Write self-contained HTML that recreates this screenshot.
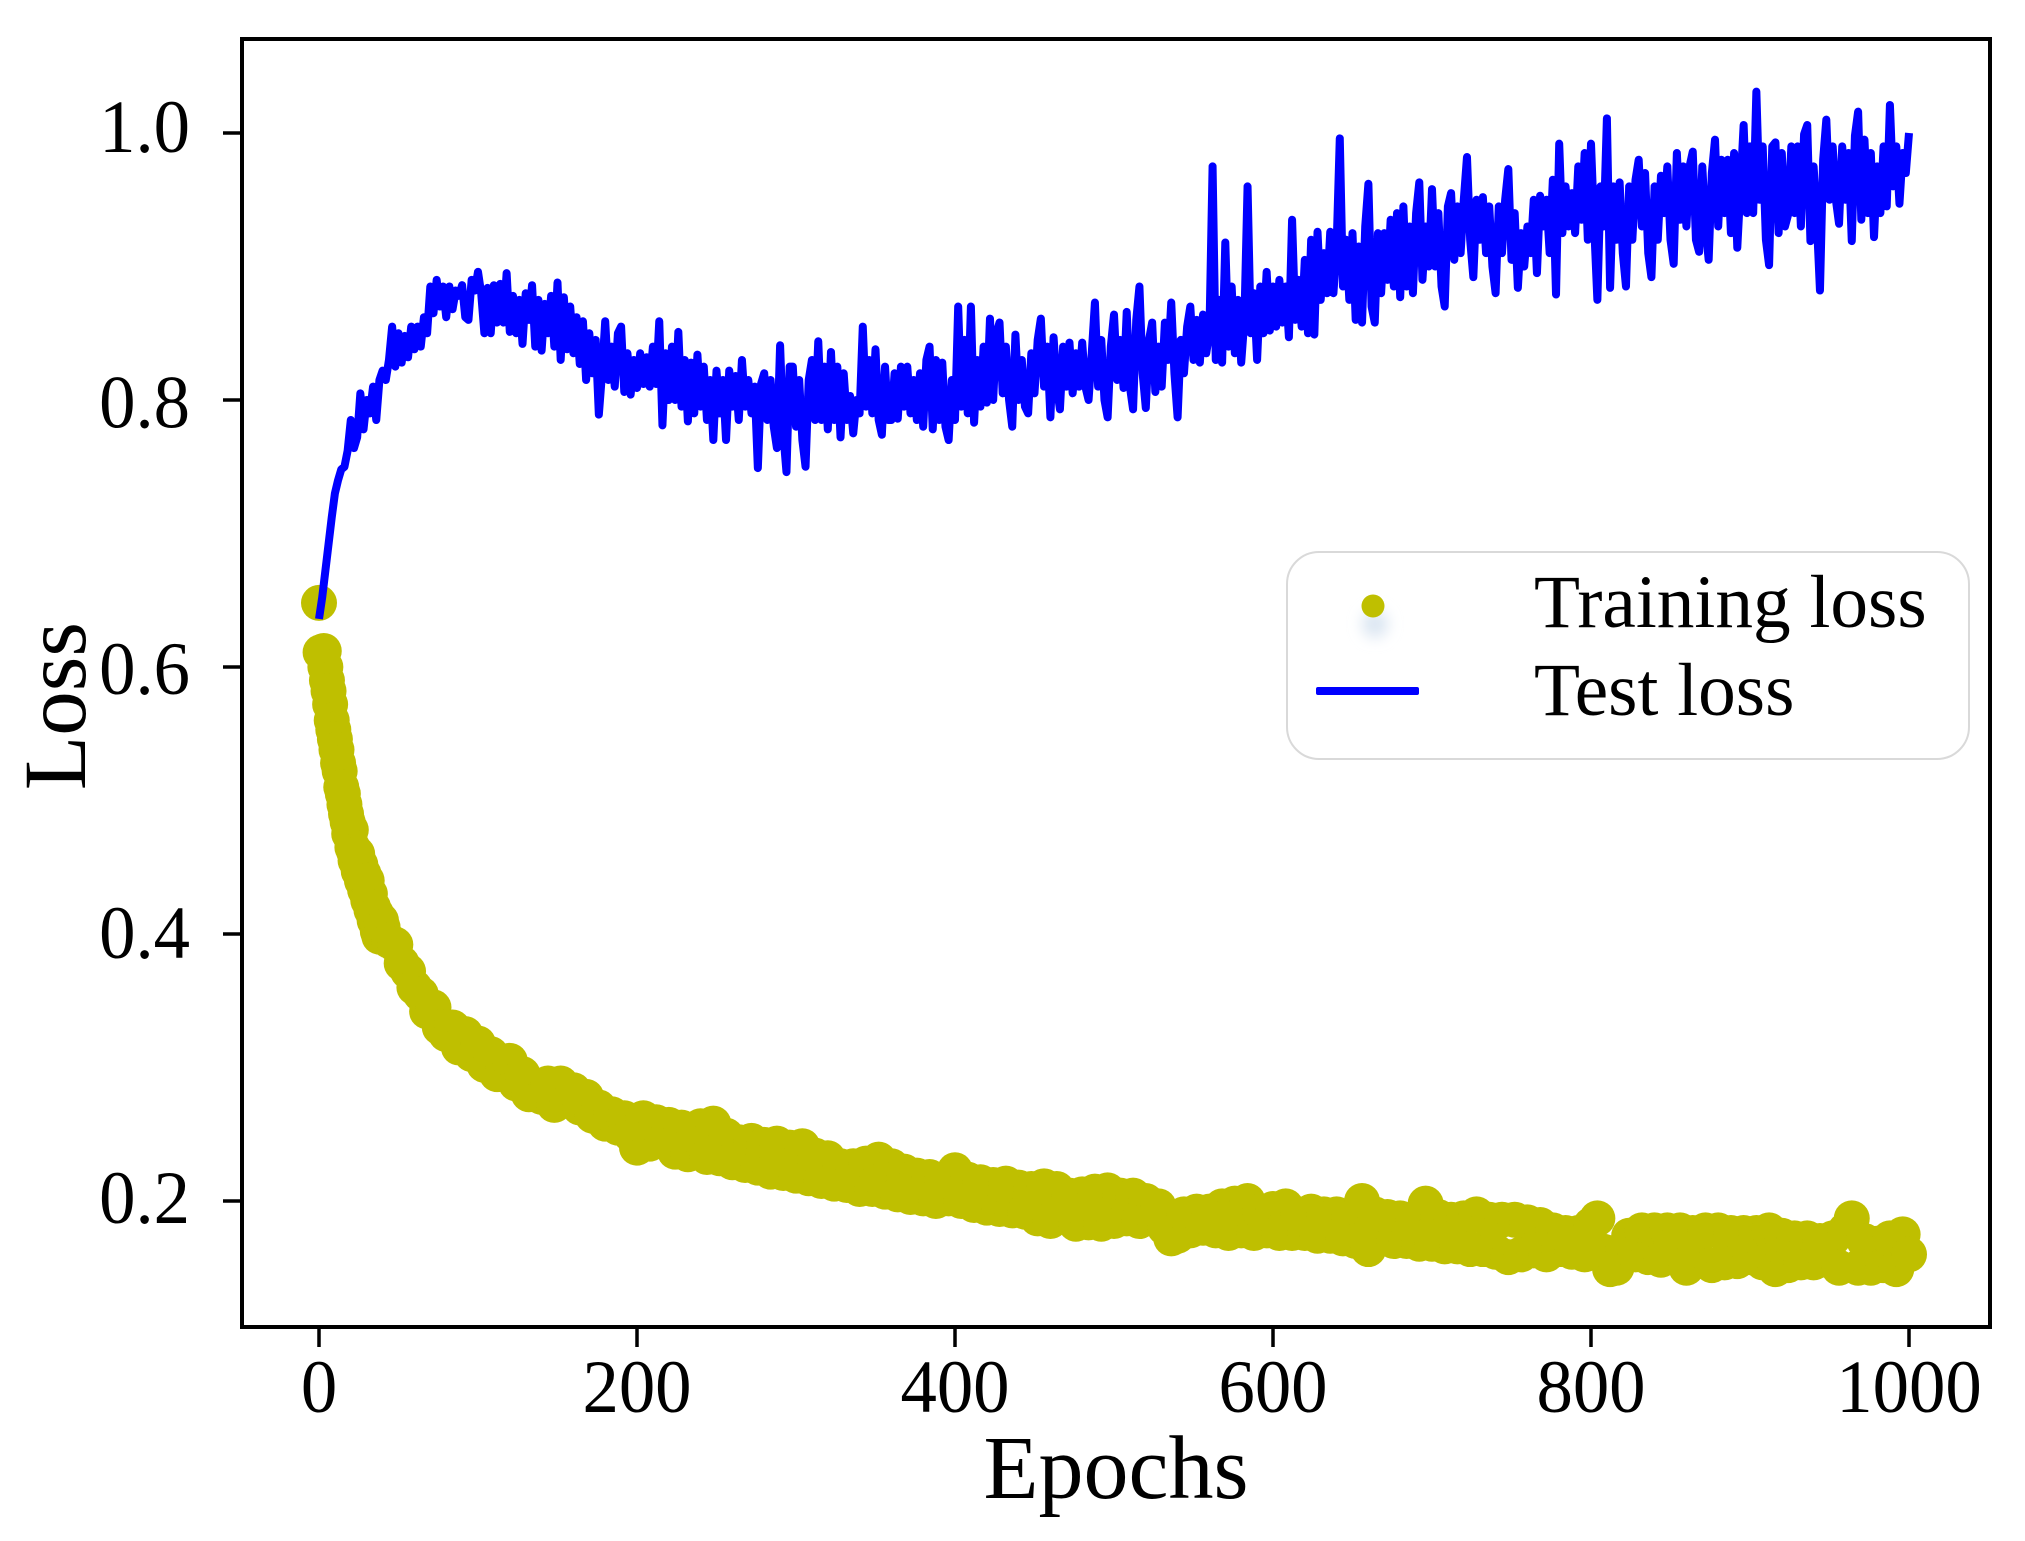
<!DOCTYPE html>
<html lang="en">
<head>
<meta charset="utf-8">
<title>Training and test loss</title>
<style>
html,body{margin:0;padding:0;background:#fff}
svg{display:block}
text{font-family:"Liberation Serif","Times New Roman",serif;fill:#000}
</style>
</head>
<body>
<svg id="chart" xmlns="http://www.w3.org/2000/svg" width="2025" height="1541" viewBox="0 0 2025 1541">
  <defs>
    <filter id="legend-glow" x="-100%" y="-100%" width="300%" height="300%"><feGaussianBlur stdDeviation="7"/></filter>
  </defs>
  <rect width="2025" height="1541" fill="#fff"/>
  <g id="train-layer"></g>
  <path id="test-line" fill="none" stroke="#0000ff" stroke-width="8" stroke-linejoin="round"/>
  <rect x="242" y="39" width="1748" height="1288" fill="none" stroke="#000" stroke-width="4"/>
  <g id="x-ticks"></g>
  <g id="y-ticks"></g>
  <text x="1116" y="1498" font-size="90" text-anchor="middle">Epochs</text>
  <text transform="translate(85 706) rotate(-90)" font-size="89" text-anchor="middle">Loss</text>
  <g>
    <rect x="1287" y="552" width="682" height="207" rx="32" ry="32" fill="#fff" stroke="#d9d9d9" stroke-width="2"/>
    <ellipse cx="1375" cy="624" rx="13" ry="14" fill="#dbe6f2" filter="url(#legend-glow)"/>
    <circle cx="1373" cy="606" r="11.5" fill="#bfbf00"/>
    <text x="1534" y="627" font-size="75.3">Training loss</text>
    <rect x="1316" y="687" width="103" height="8" rx="2" fill="#0000ff"/>
    <text x="1534" y="715" font-size="75.3">Test loss</text>
  </g>
</svg>
<script>
const xTickValues = [0, 200, 400, 600, 800, 1000];
const yTickValues = [0.2, 0.4, 0.6, 0.8, 1.0];
const yTickLabels = ["0.2", "0.4", "0.6", "0.8", "1.0"];

// Test loss, sampled every 2 epochs (20 values per row = 40 epochs)
const testEpochStep = 2;
const testLoss = [
.636,.652,.672,.692,.712,.73,.74,.748,.75,.762,.785,.764,.772,.805,.778,.8,.79,.81,.785,.815,
.822,.815,.83,.855,.825,.85,.828,.848,.832,.855,.838,.855,.84,.862,.85,.885,.865,.89,.87,.885,
.862,.885,.868,.882,.878,.886,.862,.86,.89,.882,.896,.88,.85,.884,.85,.886,.858,.887,.858,.895,
.851,.878,.85,.875,.842,.88,.86,.886,.84,.875,.837,.872,.85,.878,.84,.888,.83,.877,.838,.87,
.835,.862,.827,.859,.815,.85,.82,.845,.789,.82,.859,.815,.84,.81,.85,.855,.806,.835,.804,.83,
.809,.835,.812,.832,.81,.84,.812,.859,.781,.835,.8,.84,.8,.851,.795,.83,.784,.828,.79,.834,
.795,.825,.785,.815,.77,.822,.79,.815,.77,.822,.795,.818,.785,.83,.795,.815,.79,.81,.749,.812,
.82,.785,.815,.78,.764,.841,.775,.746,.825,.825,.78,.815,.77,.75,.815,.83,.785,.844,.785,.825,
.778,.836,.785,.825,.772,.82,.785,.803,.775,.80,.79,.855,.795,.83,.79,.838,.785,.774,.825,.785,
.785,.82,.786,.825,.795,.825,.79,.815,.785,.82,.78,.83,.84,.778,.83,.785,.828,.78,.77,.815,
.785,.87,.795,.845,.79,.87,.783,.83,.795,.84,.798,.861,.8,.85,.858,.805,.84,.8,.78,.849,
.8,.83,.795,.79,.835,.805,.845,.861,.81,.84,.787,.847,.81,.793,.84,.81,.843,.805,.835,.81,
.843,.81,.8,.835,.873,.81,.845,.8,.787,.84,.864,.815,.845,.809,.866,.81,.793,.86,.885,.82,
.794,.845,.858,.806,.84,.81,.858,.83,.873,.82,.787,.845,.82,.855,.87,.83,.86,.828,.864,.835,
.85,.975,.83,.875,.828,.918,.84,.885,.835,.875,.828,.86,.96,.85,.88,.83,.885,.85,.896,.852,
.885,.855,.89,.858,.885,.847,.935,.86,.89,.855,.905,.85,.92,.849,.926,.875,.91,.88,.926,.88,
.915,.996,.885,.92,.875,.925,.86,.915,.858,.93,.962,.87,.858,.925,.88,.925,.89,.935,.885,.94,
.877,.945,.885,.93,.88,.94,.963,.89,.93,.9,.958,.9,.94,.885,.87,.945,.955,.905,.945,.91,
.95,.982,.92,.892,.95,.92,.952,.91,.945,.9,.88,.945,.91,.95,.973,.905,.94,.884,.925,.9,
.93,.91,.95,.895,.953,.93,.95,.91,.965,.879,.992,.925,.96,.93,.955,.925,.975,.935,.985,.92,
.992,.93,.875,.96,.93,1.011,.884,.96,.92,.963,.91,.885,.96,.92,.965,.98,.93,.97,.91,.892,
.96,.92,.968,.94,.975,.92,.902,.985,.935,.975,.93,.975,.986,.92,.911,.975,.93,.905,.97,.995,
.93,.98,.94,.98,.925,.985,.914,.96,1.006,.94,.99,.94,1.031,.95,.99,.92,.901,.99,.993,.925,
.985,.93,.939,.99,.94,.99,.93,.999,1.006,.919,.975,.935,.882,.98,1.01,.95,.99,.95,.932,.99,
.95,.985,.919,.998,1.016,.935,.995,.94,.985,.922,.975,.94,.99,.945,1.021,.96,.99,.947,.985,.97,
1.0
];

// Training loss, epochs 0-39, one value per epoch
const trainLossEarly = [
.648,.611,.61,.612,.6,.59,.582,.572,.56,.553,
.546,.538,.528,.522,.51,.505,.497,.49,.484,.475,
.478,.465,.462,.455,.46,.447,.452,.44,.445,.433,
.44,.425,.43,.418,.42,.41,.415,.402,.398,.41
];

// Training loss, epochs 40-1000, sampled every 4 epochs
const trainLateStart = 40;
const trainLateStep = 4;
const trainLossLate = [
.405,.395,.392,.378,.372,.36,.355,.342,.345,.33,
.325,.33,.315,.325,.31,.318,.302,.31,.295,.3,
.305,.288,.295,.28,.285,.278,.288,.272,.288,.275,
.283,.27,.278,.264,.27,.258,.265,.255,.262,.25,
.24,.262,.243,.259,.245,.257,.237,.255,.235,.249,
.256,.233,.258,.232,.249,.229,.244,.227,.245,.225,
.242,.222,.243,.221,.24,.219,.241,.217,.234,.215,
.232,.213,.226,.212,.226,.209,.228,.209,.231,.207,
.226,.205,.222,.203,.219,.202,.218,.2,.216,.202,
.223,.2,.216,.197,.214,.195,.212,.194,.213,.193,
.21,.192,.209,.187,.211,.185,.209,.19,.204,.183,
.205,.184,.207,.183,.208,.185,.204,.187,.204,.185,
.2,.19,.196,.18,.172,.174,.19,.178,.192,.18,
.192,.178,.196,.176,.198,.178,.2,.176,.192,.178,
.194,.176,.196,.176,.19,.176,.192,.174,.19,.174,
.19,.172,.188,.17,.2,.164,.19,.172,.188,.17,
.187,.17,.186,.168,.198,.168,.188,.166,.186,.166,
.187,.164,.19,.164,.186,.162,.186,.158,.186,.16,
.184,.163,.182,.16,.178,.164,.176,.162,.176,.16,
.182,.187,.162,.149,.15,.164,.174,.16,.178,.158,
.178,.156,.178,.158,.178,.15,.176,.156,.178,.152,
.178,.154,.176,.155,.176,.158,.176,.154,.178,.149,
.174,.152,.172,.154,.172,.154,.17,.156,.172,.15,
.178,.187,.15,.17,.15,.168,.152,.172,.149,.175,
.16
];

const plotLeft = 319, pxPerEpoch = 1.59;
const yTop = 133, pxPerLoss = 1335;
function xScale(epoch) { return plotLeft + epoch * pxPerEpoch; }
function yScale(loss) { return yTop + (1 - loss) * pxPerLoss; }

const SVGNS = "http://www.w3.org/2000/svg";
function make(tag, attrs, parent) {
  const el = document.createElementNS(SVGNS, tag);
  for (const k in attrs) el.setAttribute(k, attrs[k]);
  parent.appendChild(el);
  return el;
}

// Training points
const trainLayer = document.getElementById("train-layer");
function addTrainPoint(epoch, loss) {
  const c = make("circle", { cx: xScale(epoch), cy: yScale(loss), r: 18, fill: "#bfbf00" }, trainLayer);
  
  
}
trainLossEarly.forEach(function (v, i) { addTrainPoint(i, v); });
trainLossLate.forEach(function (v, i) { addTrainPoint(trainLateStart + i * trainLateStep, v); });

// Test line
document.getElementById("test-line").setAttribute("d",
  testLoss.map(function (v, i) {
    return (i ? "L" : "M") + xScale(i * testEpochStep).toFixed(2) + " " + yScale(v).toFixed(2);
  }).join(""));

// X axis
const xTicks = document.getElementById("x-ticks");
xTickValues.forEach(function (v) {
  const x = xScale(v);
  const tick = make("line", { x1: x, x2: x, y1: 1327, y2: 1347, stroke: "#000", "stroke-width": 3.5 }, xTicks);
  
  
  const label = make("text", { transform: "translate(" + x + " 1412) scale(.97 1)", "font-size": 75, "text-anchor": "middle" }, xTicks);
  
  
  label.textContent = String(v);
});

// Y axis
const yLabelNudge = [22, 24, 27, 27.5, 19];
const yTicks = document.getElementById("y-ticks");
yTickValues.forEach(function (v, i) {
  const y = yScale(v);
  const tick = make("line", { x1: 223, x2: 242, y1: y, y2: y, stroke: "#000", "stroke-width": 3.5 }, yTicks);
  
  
  const label = make("text", { transform: "translate(190 " + (y + yLabelNudge[i]) + ") scale(.97 1)", "font-size": 75, "text-anchor": "end" }, yTicks);
  
  
  label.textContent = yTickLabels[i];
});
</script>
</body>
</html>
